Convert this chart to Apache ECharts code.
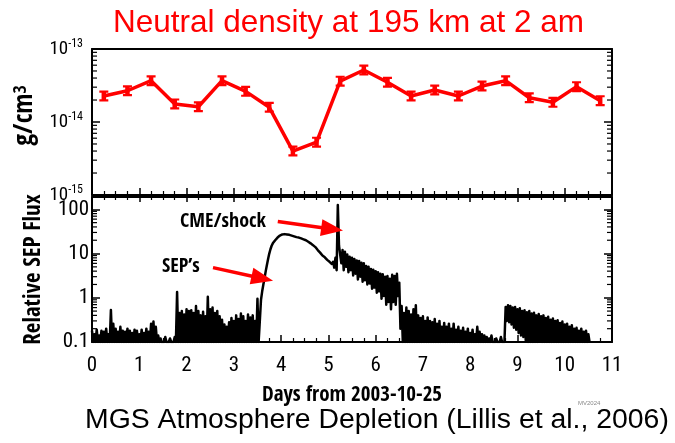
<!DOCTYPE html>
<html><head><meta charset="utf-8">
<script src="https://cdn.jsdelivr.net/npm/echarts@6/dist/echarts.min.js"></script>
<style>html,body{margin:0;padding:0;background:#fff}#c{width:675px;height:443px}</style>
</head><body><div id="c"></div>
<script>
// ---------- data ----------
// Neutral density at 195 km, 2 am (units of 1e-15 g/cm3)
const densityDays = [0.25,0.75,1.25,1.75,2.25,2.75,3.25,3.75,4.25,4.75,5.25,5.75,6.25,6.75,7.25,7.75,8.25,8.75,9.25,9.75,10.25,10.75];
const densityE15  = [22.7,26.8,36.8,17.7,16.2,36.8,26.3,15.9,4.0,5.3,36.3,51.5,35.0,22.7,27.4,22.7,31.1,36.8,21.5,18.6,30.5,19.6];

// Relative SEP flux trace, read in 0.05-day bins (first = bin start, second = bin middle)
const FLUX_FLOOR = 0.1;
const quietStart = 0.00;
const quietPeak = [0.18,0.15,0.19,0.14,0.18,0.17,0.20,0.15,0.53,0.26,0.20,0.17,0.22,0.18,0.17,0.20,0.18,0.16,0.19,0.18,
  0.15,0.19,0.16,0.20,0.17,0.26,0.29,0.22,0.14,0.12,0.11,0.13,0.11,0.12,0.11,0.13,1.35,0.45,0.50,0.42,
  0.55,0.50,0.52,0.45,0.65,0.50,0.40,0.48,0.38,1.05,0.55,0.60,0.45,0.50,0.38,0.32,0.25,0.22,0.28,0.35,
  0.30,0.40,0.33,0.44,0.38,0.30,0.42,0.36,0.40,0.30,0.95];
const eventStart = 3.55;
const eventFirst = [0.3,1.4,2.8,5.5,10,15,18.5,22,24,26.5,28,28,27.5,26,25,24.5,24,22.5,22,21,
  19.5,18,16.5,15,13,11.5,10,9,8,7.5,6.8,6.5,8,125,15,12,11,9.5,8.5,8,
  7.5,7,6.8,6.2,6,5.2,5,4.5,4.3,4.0,3.8,3.5,3.4,3.0,3.1,2.7,3.3,3.1,3.5,2.2];
const eventSecond = [0.9,2.0,4.0,7.5,12.5,17,20,23,25.5,27,27.5,27,26.5,25.5,24.5,23.5,23,22,21,20,
  18.5,17,15.5,14,12,10.5,9,8.2,7.2,6.5,5.8,4.8,4.2,15,6,4.2,5,3.8,4.2,3.2,
  3.5,2.6,3.0,2.3,2.5,2.0,2.1,1.6,1.7,1.3,1.4,0.95,1.1,0.7,0.8,0.55,0.8,0.7,1.1,0.2];
const decayStart = 6.55;
const decayPeak = [0.65,0.45,0.60,0.50,0.42,0.55,0.68,0.40,0.35,0.38,0.30,0.36,0.30,0.28,0.33,0.26,0.30,0.22,0.27,0.22,
  0.26,0.20,0.26,0.19,0.22,0.18,0.21,0.17,0.20,0.16,0.19,0.15,0.22,0.17,0.15,0.14,0.13,0.12,0.14,0.11,
  0.12,0.11,0.13,0.11];
const sawStart = 8.75;
const sawFirst = [0.62,0.68,0.65,0.60,0.62,0.55,0.58,0.50,0.52,0.47,0.50,0.44,0.46,0.40,0.43,0.38,0.40,0.35,0.37,0.32,
  0.34,0.30,0.31,0.27,0.29,0.25,0.26,0.22,0.24,0.20,0.21,0.18,0.20,0.17,0.18,0.15];
const sawSecond = [0.30,0.28,0.25,0.21,0.19,0.16,0.14,0.13,0.11,0.10,0.10,0.10,0.10,0.10,0.11,0.10,0.10,0.10,0.10,0.10,
  0.10,0.10,0.10,0.10,0.10,0.10,0.10,0.10,0.10,0.10,0.10,0.10,0.10,0.10,0.10,0.10];

// tick labels
const dayTicks = [0,1,2,3,4,5,6,7,8,9,10,11];

// annotations (data coordinates of lower panel)
const annText = ['CME/shock', 'SEP\u2019s'];
const annDay  = [2.77, 1.88];
const annFlux = [53, 5.1];
const arrowFromDay = [3.93, 2.56], arrowFromFlux = [53, 4.8];
const arrowToDay   = [5.31, 3.83], arrowToFlux   = [33, 2.43];

// ---------- build ----------
const BIN = 0.05, HALF = 0.025;
function traceSegment(start, first, second) {
  const pts = [];
  for (let i = 0; i < first.length; i++) {
    const d = start + i * BIN;
    pts.push([+d.toFixed(3), first[i]]);
    pts.push([+(d + HALF).toFixed(3), second ? second[i] : FLUX_FLOOR]);
  }
  return pts;
}
const fluxData = [].concat(
  traceSegment(quietStart, quietPeak),
  traceSegment(eventStart, eventFirst, eventSecond),
  traceSegment(decayStart, decayPeak),
  traceSegment(sawStart, sawFirst, sawSecond)
);
const densityData = densityDays.map((d, i) => [d, densityE15[i]]);

const mant = [2,3,4,5,6,7,8,9];
function minorLogTicks(lo, hi) {
  const out = [];
  for (let dec = lo; dec < hi; dec *= 10) mant.forEach(m => { if (m * dec < hi) out.push([0, m * dec]); });
  return out;
}

const COND_BOLD = '"Open Sans Condensed", "Roboto Condensed", sans-serif';
const COND = '"Roboto Condensed", "Open Sans Condensed", sans-serif';
const ARIAL = '"Liberation Sans", Arial, sans-serif';
const BLACK = '#000';
const RED = '#ff0000';

function minorTickItem(params, api) {
  const y = api.coord([0, api.value(1)])[1];
  const cs = params.coordSys;
  const st = {stroke: BLACK, lineWidth: 1.2};
  return {type: 'group', children: [
    {type: 'line', shape: {x1: cs.x, y1: y, x2: cs.x + 5, y2: y}, style: st},
    {type: 'line', shape: {x1: cs.x + cs.width, y1: y, x2: cs.x + cs.width - 5, y2: y}, style: st}
  ]};
}

const axisLine = {show: true, onZero: false, lineStyle: {color: BLACK, width: 2}};

function xAx(grid, pos, opts) {
  return Object.assign({
    gridIndex: grid, type: 'value', min: 0, max: 11, interval: 1, position: pos,
    axisLine: axisLine,
    axisTick: {show: true, inside: true, length: 7, lineStyle: {color: BLACK, width: 1.5}},
    minorTick: {show: true, splitNumber: 4, length: 4, lineStyle: {color: BLACK, width: 1.2}},
    axisLabel: {show: false}, splitLine: {show: false}, minorSplitLine: {show: false}
  }, opts || {});
}
function yAx(grid, pos, min, max, opts) {
  return Object.assign({
    gridIndex: grid, type: 'log', logBase: 10, min: min, max: max, position: pos,
    axisLine: axisLine,
    axisTick: {show: true, inside: true, length: 8, lineStyle: {color: BLACK, width: 1.5}},
    axisLabel: {show: false}, splitLine: {show: false}
  }, opts || {});
}

const option = {
  animation: false,
  backgroundColor: '#fff',
  title: [
    {text: 'Neutral density at 195 km at 2 am', left: 113, top: 7, padding: 0,
      textStyle: {color: RED, fontSize: 31.5, fontWeight: 'normal', fontFamily: ARIAL}},
    {text: 'MGS Atmosphere Depletion (Lillis et al., 2006)', left: 85, top: 406, padding: 0,
      textStyle: {color: BLACK, fontSize: 28.4, fontWeight: 'normal', fontFamily: ARIAL}},
    {text: 'MV2024', left: 578, top: 400, padding: 0,
      textStyle: {color: '#888', fontSize: 6, fontWeight: 'normal', fontFamily: ARIAL}}
  ],
  grid: [
    {left: 92, top: 49, width: 520, height: 146},
    {left: 92, top: 197, width: 520, height: 145}
  ],
  xAxis: [
    xAx(0, 'bottom'),
    xAx(0, 'top', {axisTick: {show: false}, minorTick: {show: false}}),
    xAx(1, 'bottom', {
      axisLabel: {show: true, color: BLACK, fontFamily: COND, fontSize: 21, margin: 13,
        formatter: v => dayTicks.indexOf(v) >= 0 ? String(v) : ''},
      name: 'Days from 2003-10-25', nameLocation: 'middle', nameGap: 43,
      nameTextStyle: {color: BLACK, fontFamily: COND_BOLD, fontSize: 21, fontWeight: 'bold'}
    }),
    xAx(1, 'top', {axisTick: {show: true, inside: true, length: 5, lineStyle: {color: BLACK, width: 1.5}},
      minorTick: {show: true, splitNumber: 4, length: 3, lineStyle: {color: BLACK, width: 1.2}}})
  ],
  yAxis: [
    yAx(0, 'left', 1, 100, {
      axisLabel: {show: true, margin: 9,
        formatter: v => '{b|10}{s|' + (Math.round(Math.log10(v)) - 15) + '}',
        rich: {
          b: {fontFamily: COND, fontSize: 19, color: BLACK, lineHeight: 22},
          s: {fontFamily: COND, fontSize: 12, color: BLACK, lineHeight: 12, verticalAlign: 'top'}
        }},
      name: '{n|g/cm}{s|3}', nameLocation: 'middle', nameRotate: 90, nameGap: 45,
      nameTextStyle: {padding: [0, 0, 0, 13], rich: {
        n: {fontFamily: COND_BOLD, fontSize: 26, fontWeight: 'bold', color: BLACK, lineHeight: 26},
        s: {fontFamily: COND_BOLD, fontSize: 18, fontWeight: 'bold', color: BLACK, lineHeight: 16, verticalAlign: 'top'}
      }}
    }),
    yAx(0, 'right', 1, 100),
    yAx(1, 'left', 0.1, 190, {
      axisLabel: {show: true, margin: 3, color: BLACK, fontFamily: COND, fontSize: 21,
        formatter: v => {
          const l = Math.log10(v);
          if (Math.abs(l - Math.round(l)) > 1e-6) return '';
          return v >= 1 ? String(Math.round(v)) : String(+v.toFixed(1));
        }},
      name: 'Relative SEP Flux', nameLocation: 'middle', nameRotate: 90, nameGap: 47,
      nameTextStyle: {color: BLACK, fontFamily: COND_BOLD, fontSize: 23, fontWeight: 'bold'}
    }),
    yAx(1, 'right', 0.1, 190)
  ],
  series: [
    {
      name: 'Neutral density', type: 'line', xAxisIndex: 0, yAxisIndex: 0,
      data: densityData,
      lineStyle: {color: RED, width: 3.5},
      itemStyle: {color: RED},
      symbol: 'path://M0,0H10V2H7.5V8H10V10H0V8H2.5V2H0Z', symbolSize: [9, 11], showSymbol: true,
      z: 5
    },
    {
      type: 'custom', xAxisIndex: 0, yAxisIndex: 0, silent: true, clip: false,
      data: minorLogTicks(1, 100), renderItem: minorTickItem, z: 4
    },
    {
      name: 'Relative SEP flux', type: 'line', xAxisIndex: 2, yAxisIndex: 2,
      data: fluxData, showSymbol: false, symbol: 'none',
      lineStyle: {color: BLACK, width: 2.5, join: 'round'},
      z: 3
    },
    {
      type: 'custom', xAxisIndex: 2, yAxisIndex: 2, silent: true, clip: false,
      data: minorLogTicks(0.1, 190), renderItem: minorTickItem, z: 4
    },
    {
      type: 'custom', xAxisIndex: 2, yAxisIndex: 2, silent: true, clip: false, z: 6,
      data: arrowFromDay.map((d, i) => [d, arrowFromFlux[i], arrowToDay[i], arrowToFlux[i]]),
      encode: {x: [0, 2], y: [1, 3]},
      renderItem: function (params, api) {
        const p1 = api.coord([api.value(0), api.value(1)]);
        const p2 = api.coord([api.value(2), api.value(3)]);
        const dx = p2[0] - p1[0], dy = p2[1] - p1[1];
        const L = Math.hypot(dx, dy), ux = dx / L, uy = dy / L;
        const head = 22, hw = 8.5;
        const bx = p2[0] - ux * head, by = p2[1] - uy * head;
        return {type: 'group', children: [
          {type: 'line', shape: {x1: p1[0], y1: p1[1], x2: bx + ux * 3, y2: by + uy * 3},
            style: {stroke: RED, lineWidth: 3.5}},
          {type: 'polygon', shape: {points: [[p2[0], p2[1]], [bx - uy * hw, by + ux * hw], [bx + uy * hw, by - ux * hw]]},
            style: {fill: RED}}
        ]};
      }
    },
    {
      type: 'custom', xAxisIndex: 2, yAxisIndex: 2, silent: true, clip: false, z: 6,
      data: annDay.map((d, i) => [d, annFlux[i]]),
      renderItem: function (params, api) {
        const p = api.coord([api.value(0), api.value(1)]);
        return {type: 'text', x: p[0], y: p[1], style: {
          text: annText[params.dataIndex], fill: BLACK,
          font: 'bold 20px ' + COND_BOLD, align: 'center', verticalAlign: 'middle'}};
      }
    }
  ]
};

const chart = echarts.init(document.getElementById('c'), null, {renderer: 'canvas'});
chart.setOption(option);
</script>
</body></html>
